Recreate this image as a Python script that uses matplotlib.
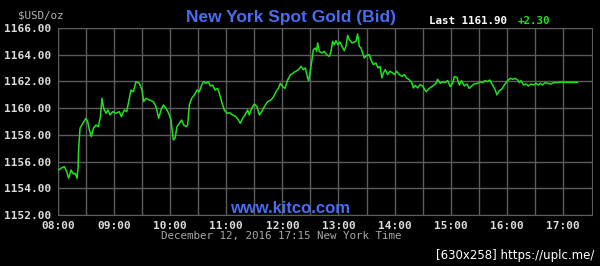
import numpy as np
import matplotlib
matplotlib.use('Agg')
import matplotlib.pyplot as plt

# spot gold bid, Dec 12 2016 -- hours (decimal, NY time) and price
hours = [8.012, 8.053, 8.113, 8.155, 8.19, 8.232, 8.273, 8.309, 8.339, 8.357,
         8.368, 8.392, 8.44, 8.499, 8.529, 8.559, 8.594, 8.63, 8.677, 8.719,
         8.755, 8.784, 8.814, 8.856, 8.891, 8.927, 8.974, 9.034, 9.093, 9.129,
         9.182, 9.224, 9.26, 9.301, 9.343, 9.39, 9.45, 9.497, 9.527, 9.569,
         9.628, 9.699, 9.747, 9.794, 9.836, 9.878, 9.925, 9.973, 10.014, 10.056,
         10.086, 10.121, 10.163, 10.204, 10.24, 10.282, 10.311, 10.341, 10.383, 10.43,
         10.478, 10.519, 10.561, 10.597, 10.638, 10.68, 10.715, 10.757, 10.799, 10.846,
         10.876, 10.917, 10.965, 11.012, 11.054, 11.113, 11.173, 11.214, 11.25, 11.292,
         11.333, 11.381, 11.41, 11.452, 11.5, 11.547, 11.589, 11.63, 11.678, 11.737,
         11.797, 11.844, 11.886, 11.927, 11.963, 12.005, 12.046, 12.094, 12.141, 12.183,
         12.225, 12.29, 12.332, 12.373, 12.409, 12.45, 12.468, 12.492, 12.528, 12.551,
         12.587, 12.611, 12.629, 12.658, 12.706, 12.747, 12.789, 12.837, 12.866, 12.896,
         12.926, 12.955, 12.991, 13.027, 13.062, 13.104, 13.134, 13.163, 13.193, 13.241,
         13.282, 13.312, 13.342, 13.371, 13.401, 13.431, 13.461, 13.502, 13.55, 13.579,
         13.621, 13.668, 13.704, 13.74, 13.775, 13.799, 13.835, 13.876, 13.918, 13.966,
         14.001, 14.037, 14.084, 14.132, 14.173, 14.215, 14.263, 14.31, 14.334, 14.37,
         14.411, 14.453, 14.5, 14.56, 14.619, 14.679, 14.738, 14.768, 14.815, 14.857,
         14.898, 14.946, 14.993, 15.035, 15.065, 15.112, 15.154, 15.195, 15.243, 15.29,
         15.332, 15.374, 15.421, 15.481, 15.528, 15.57, 15.611, 15.659, 15.695, 15.748,
         15.79, 15.825, 15.867, 15.909, 15.956, 16.016, 16.063, 16.105, 16.146, 16.194,
         16.223, 16.253, 16.301, 16.342, 16.384, 16.431, 16.479, 16.521, 16.562, 16.598,
         16.639, 16.681, 16.728, 16.788, 16.835, 16.906, 16.966, 17.026, 17.144, 17.263]

bid = [1155.37, 1155.50, 1155.62, 1155.25, 1154.75, 1155.37, 1155.07, 1155.12, 1154.75, 1155.50,
       1156.99, 1158.49, 1158.86, 1159.24, 1158.99, 1158.37, 1157.87, 1158.49, 1158.74, 1158.61,
       1159.36, 1160.74, 1159.99, 1159.61, 1159.86, 1159.49, 1159.74, 1159.61, 1159.74, 1159.36,
       1159.86, 1159.74, 1160.49, 1161.36, 1161.23, 1161.98, 1161.86, 1161.36, 1160.49, 1160.74,
       1160.61, 1160.49, 1160.11, 1159.24, 1159.86, 1160.24, 1159.99, 1159.61, 1159.11, 1157.62,
       1157.74, 1158.61, 1158.86, 1159.11, 1158.74, 1158.61, 1158.74, 1160.24, 1160.74, 1160.99,
       1161.36, 1161.23, 1161.73, 1161.98, 1161.86, 1161.98, 1161.66, 1161.73, 1161.36, 1161.48,
       1161.11, 1160.49, 1159.86, 1159.61, 1159.66, 1159.49, 1159.36, 1159.11, 1158.86, 1159.24,
       1159.49, 1159.86, 1159.49, 1159.99, 1160.31, 1160.11, 1159.49, 1159.74, 1160.11, 1160.49,
       1160.61, 1160.86, 1161.23, 1161.48, 1161.86, 1161.61, 1161.48, 1162.11, 1162.48, 1162.61,
       1162.73, 1162.88, 1163.13, 1162.88, 1163.01, 1162.26, 1162.06, 1162.63, 1163.63, 1164.38,
       1164.50, 1164.25, 1164.88, 1164.25, 1164.13, 1164.25, 1164.00, 1163.88, 1164.25, 1165.00,
       1164.75, 1165.05, 1164.75, 1164.95, 1164.63, 1164.30, 1164.63, 1165.45, 1165.13, 1164.88,
       1164.95, 1165.00, 1165.55, 1164.63, 1164.50, 1164.13, 1163.75, 1163.95, 1164.00, 1163.63,
       1163.26, 1163.38, 1163.01, 1163.13, 1162.26, 1162.63, 1162.88, 1162.51, 1162.76, 1162.63,
       1162.51, 1162.76, 1162.51, 1162.38, 1162.51, 1162.26, 1162.13, 1161.88, 1161.51, 1161.71,
       1161.51, 1161.76, 1161.66, 1161.23, 1161.48, 1161.66, 1161.86, 1162.16, 1161.86, 1161.98,
       1161.91, 1162.06, 1161.61, 1161.86, 1162.36, 1162.31, 1161.73, 1162.06, 1161.66, 1161.81,
       1161.48, 1161.66, 1161.81, 1161.86, 1161.98, 1161.91, 1162.06, 1161.98, 1162.11, 1161.73,
       1161.41, 1160.99, 1161.31, 1161.41, 1161.73, 1162.06, 1162.23, 1162.16, 1162.23, 1162.11,
       1161.91, 1162.06, 1161.73, 1161.81, 1161.66, 1161.81, 1161.73, 1161.86, 1161.73, 1161.86,
       1161.73, 1161.91, 1161.86, 1161.81, 1161.91, 1161.91, 1161.96, 1161.93, 1161.93, 1161.93]

x_ticks = [8, 9, 10, 11, 12, 13, 14, 15, 16, 17]
x_labels = ['08:00', '09:00', '10:00', '11:00', '12:00', '13:00', '14:00', '15:00', '16:00', '17:00']
y_ticks = [1152, 1154, 1156, 1158, 1160, 1162, 1164, 1166]

last_price = '1161.90'
change = '+2.30'

mono = 'DejaVu Sans Mono'
fig = plt.figure(figsize=(6, 2.66), dpi=100, facecolor='black')
ax = fig.add_axes([0.0967, 0.1917, 0.89, 0.703], facecolor='black')

ax.plot(hours, bid, color='#22e01e', lw=1.1, zorder=3)

ax.set_xlim(8, 17.52)
ax.set_ylim(1152, 1166)
ax.set_xticks(x_ticks)
ax.set_xticklabels(x_labels)
ax.set_xticks(np.arange(8.5, 17.5, 1.0), minor=True)
ax.set_yticks(y_ticks)
ax.set_yticklabels(['%.2f' % v for v in y_ticks])
ax.grid(True, which='both', color='#5c5c5c', lw=1.0)
ax.set_axisbelow(True)
ax.tick_params(which='both', length=0, colors='#dcdcdc', labelsize=8)
ax.tick_params(axis='y', pad=5)
ax.tick_params(axis='x', pad=4)
for lab in ax.get_xticklabels() + ax.get_yticklabels():
    lab.set_family(mono)
    lab.set_weight('bold')
for s in ax.spines.values():
    s.set_color('#5c5c5c')

fig.text(0.485, 0.935, 'New York Spot Gold (Bid)', color='#4a6cf0', fontsize=12.5,
         fontweight='bold', family='Liberation Sans', ha='center', va='center')
fig.text(0.03, 0.942, '$USD/oz', color='#b4b4b4', fontsize=7.8, family=mono,
         ha='left', va='center')
fig.text(0.715, 0.92, 'Last ' + last_price, color='white', fontsize=7.8, family=mono,
         fontweight='bold', ha='left', va='center')
fig.text(0.862, 0.92, change, color='#22e01e', fontsize=7.8, family=mono,
         fontweight='bold', ha='left', va='center')
fig.text(0.484, 0.218, 'www.kitco.com', color='#4a6cf0', fontsize=12,
         fontweight='bold', family='Liberation Sans', ha='center', va='center', zorder=5)
fig.text(0.469, 0.113, 'December 12, 2016 17:15 New York Time', color='#a8a8a8',
         fontsize=7.8, family=mono, ha='center', va='center')
fig.text(0.99, 0.041, '[630x258] https://uplc.me/', color='white', fontsize=8.5,
         ha='right', va='center')

fig.savefig('out.png', dpi=100, facecolor='black')
